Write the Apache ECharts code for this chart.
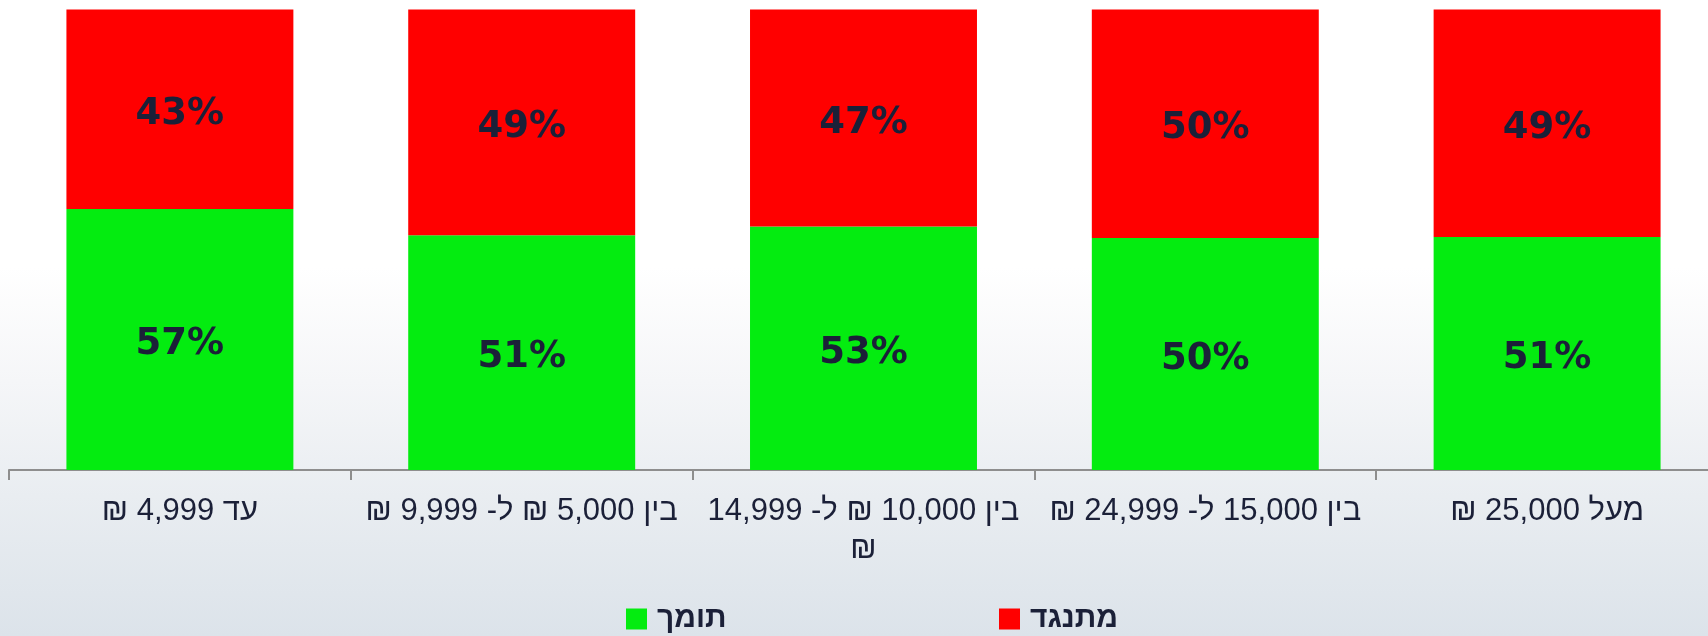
<!DOCTYPE html>
<html>
<head>
<meta charset="utf-8">
<script src="https://cdn.jsdelivr.net/npm/echarts@6/dist/echarts.min.js"></script>
<style>
  html, body { margin: 0; padding: 0; }
  body {
    width: 1708px; height: 636px; overflow: hidden;
    background: linear-gradient(to bottom, #ffffff 0%, #ffffff 42%, #f5f6f8 60%, #e9edf1 78%, #dce3ea 100%);
  }
  #chart { width: 1708px; height: 636px; direction: rtl; }
</style>
</head>
<body>
<div id="chart"></div>
<script>
const categories = [
  'עד 4,999 ₪',
  'בין 5,000 ₪ ל- 9,999 ₪',
  'בין 10,000 ₪ ל- 14,999 ₪',
  'בין 15,000 ל- 24,999 ₪',
  'מעל 25,000 ₪'
];
const supportName = 'תומך';
const opposeName = 'מתנגד';
const supportValues = [56.7, 51.0, 52.9, 50.4, 50.6];
const opposeValues = [43.3, 49.0, 47.1, 49.6, 49.4];

const GREEN = '#04ec10';
const RED = '#ff0000';
const TEXT = '#1b2038';
const CAT_FONT_SIZE = 31;
const CAT_FONT = CAT_FONT_SIZE + 'px "Liberation Sans"';
const CAT_MAX_WIDTH = 336;

// word wrap helper for category labels (breaks only at spaces)
const measureCtx = document.createElement('canvas').getContext('2d');
function wrapLabel(text) {
  measureCtx.font = CAT_FONT;
  const words = text.split(' ');
  const lines = [];
  let cur = '';
  words.forEach(w => {
    const trial = cur ? cur + ' ' + w : w;
    if (cur && measureCtx.measureText(trial).width > CAT_MAX_WIDTH) {
      lines.push(cur);
      cur = w;
    } else {
      cur = trial;
    }
  });
  if (cur) lines.push(cur);
  return lines.join('\n');
}

const chart = echarts.init(document.getElementById('chart'), null, { renderer: 'canvas' });

const labelStyle = {
  show: true,
  position: 'inside',
  offset: [0, 5],
  fontFamily: 'DejaVu Sans',
  fontWeight: 'bold',
  fontSize: 37,
  color: TEXT,
  formatter: p => Math.round(p.value) + '%'
};

const legendCommon = {
  top: 599,
  itemWidth: 21,
  itemHeight: 21,
  icon: 'rect',
  textStyle: {
    fontFamily: 'Liberation Sans',
    fontWeight: 'bold',
    fontSize: 30,
    color: TEXT,
    padding: [0, 0, 0, 5]
  }
};

chart.setOption({
  backgroundColor: 'transparent',
  animation: false,
  grid: { left: 9, top: 9.5, width: 1709, height: 460.5, containLabel: false, outerBoundsMode: 'none' },
  legend: [
    Object.assign({ left: 621, data: [supportName] }, legendCommon),
    Object.assign({ left: 994, data: [opposeName] }, legendCommon)
  ],
  xAxis: {
    type: 'category',
    data: categories,
    axisLine: { lineStyle: { color: '#8e8e8e', width: 2 } },
    axisTick: { show: true, length: 10, lineStyle: { color: '#8e8e8e', width: 2 } },
    axisLabel: {
      interval: 0,
      margin: 22,
      fontFamily: 'Liberation Sans',
      fontSize: CAT_FONT_SIZE,
      lineHeight: 38,
      color: TEXT,
      hideOverlap: false,
      formatter: v => wrapLabel(v)
    }
  },
  yAxis: { type: 'value', min: 0, max: 100, show: false, splitLine: { show: false } },
  series: [
    {
      name: supportName, type: 'bar', stack: 'total', data: supportValues,
      barWidth: '66.4%', itemStyle: { color: GREEN }, label: labelStyle
    },
    {
      name: opposeName, type: 'bar', stack: 'total', data: opposeValues,
      barWidth: '66.4%', itemStyle: { color: RED }, label: labelStyle
    }
  ]
});
</script>
</body>
</html>
